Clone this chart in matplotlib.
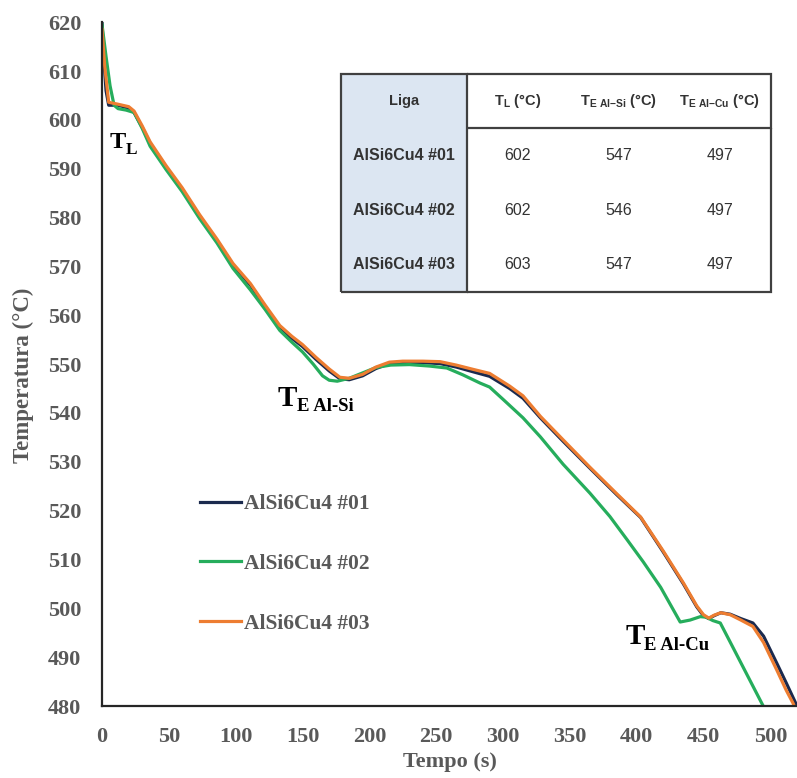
import matplotlib
matplotlib.use("Agg")
import matplotlib.pyplot as plt
from matplotlib.patches import Rectangle

# curvas de arrefecimento (tempo em s, temperatura em °C)
t_01 = [0, 1, 3, 5, 12, 20, 24, 30, 36, 48, 60, 73, 86, 98, 111, 122, 133, 142, 150, 160,
        170, 178, 185, 195, 205, 215, 225, 240, 253, 265, 278, 290, 305, 315, 328, 345,
        365, 385, 403, 420, 435, 445, 450, 454, 458, 463, 470, 478, 487, 495, 505, 512, 519, 522]
T_01 = [620, 614, 606, 603, 603, 602.4, 601.5, 598.5, 595.2, 590.3, 585.8, 580.3, 575.3, 570.3,
        566.2, 561.8, 557.6, 555.3, 553.6, 551, 548.6, 547, 546.8, 547.6, 549.1, 550.1, 550.3,
        550.3, 550.1, 549.4, 548.4, 547.5, 545, 543, 539, 534.2, 528.7, 523.3, 518.6, 511.5,
        505, 500.3, 498.5, 497.9, 498.5, 499.1, 498.8, 497.9, 497, 494.3, 488.7, 484.7, 480.6, 478.5]

t_02 = [0, 3, 6, 9, 12, 18, 24, 30, 36, 48, 60, 73, 86, 98, 111, 122, 133, 142, 150, 158,
        165, 170, 176, 185, 195, 205, 216, 230, 245, 258, 270, 283, 290, 300, 315, 328, 345,
        365, 380, 393, 405, 418, 432.6, 440, 447.6, 452, 457, 462.6, 470, 480, 490, 497]
T_02 = [619.5, 613, 607, 603, 602.3, 602, 601.5, 598.3, 594.6, 589.8, 585.3, 579.8, 574.8,
        569.6, 565.2, 561.2, 556.9, 554.5, 552.5, 550, 547.6, 546.7, 546.5, 547.1, 548.2, 549.3,
        549.8, 549.9, 549.6, 549.2, 547.8, 546.1, 545.3, 542.8, 539, 535.1, 529.5, 523.6, 518.8,
        514, 509.5, 504.3, 497.2, 497.6, 498.3, 498.2, 497.5, 497, 493.1, 487.8, 482.5, 478.8]

t_03 = [0, 2, 5, 12, 20, 24, 30, 36, 48, 60, 73, 86, 98, 111, 122, 133, 142, 150, 160, 170,
        178, 185, 195, 205, 215, 225, 240, 253, 265, 278, 290, 305, 315, 328, 345, 365, 385,
        403, 420, 435, 445, 450, 454, 458, 463, 470, 478, 487, 495, 505, 512, 517, 521]
T_03 = [618.5, 611, 603.6, 603.2, 602.7, 601.8, 598.8, 595.5, 590.6, 586.1, 580.6, 575.6, 570.6,
        566.5, 562.1, 557.9, 555.7, 554, 551.4, 549, 547.3, 547.1, 547.9, 549.4, 550.4, 550.6,
        550.6, 550.5, 549.8, 548.9, 548.1, 545.5, 543.5, 539.3, 534.5, 528.9, 523.5, 518.7,
        511.7, 505.2, 500.5, 498.7, 498, 498.6, 499.1, 498.7, 497.6, 496.3, 493, 487.3, 483.2,
        480.6, 478]

series = ["AlSi6Cu4 #01", "AlSi6Cu4 #02", "AlSi6Cu4 #03"]
colors = ["#1b2a4e", "#26ad5c", "#ed7d31"]

# tabela de temperaturas características
tab_cols = ["Liga", "T$_\\mathregular{L}$ (°C)", "T$_\\mathregular{E\\ Al{-}Si}$ (°C)",
            "T$_\\mathregular{E\\ Al{-}Cu}$ (°C)"]
T_L = [602, 602, 603]
T_E_AlSi = [547, 546, 547]
T_E_AlCu = [497, 497, 497]

x_ticks = list(range(0, 501, 50))
y_ticks = list(range(480, 621, 10))

gray = "#595959"
serif = "Liberation Serif"

fig = plt.figure(figsize=(7.97, 7.78), dpi=100)
ax = fig.add_axes([0.128, 0.0925, 0.872, 0.879])

ax.plot(t_01, T_01, color=colors[0], lw=2.3, label=series[0])
ax.plot(t_02, T_02, color=colors[1], lw=2.3, label=series[1])
ax.plot(t_03, T_03, color=colors[2], lw=2.3, label=series[2])

ax.set_xlim(0, 520)
ax.set_ylim(480, 620)
ax.set_xticks(x_ticks)
ax.set_yticks(y_ticks)
ax.tick_params(length=0, pad=15, labelsize=16, labelcolor=gray)
for lbl in ax.get_xticklabels() + ax.get_yticklabels():
    lbl.set_fontfamily(serif)
    lbl.set_fontweight("bold")

for s in ["top", "right"]:
    ax.spines[s].set_visible(False)
for s in ["left", "bottom"]:
    ax.spines[s].set_color("#262626")
    ax.spines[s].set_linewidth(1.6)

ax.set_xlabel("Tempo (s)", fontsize=16, fontfamily=serif, fontweight="bold", color=gray)
ax.set_ylabel("Temperatura (°C)", fontsize=16.5, fontfamily=serif, fontweight="bold", color=gray)
ax.xaxis.set_label_coords(0.5, -0.067)
ax.yaxis.set_label_coords(-0.098, 0.484)

leg = ax.legend(loc="upper left", bbox_to_anchor=(200 / 797, 1 - 494 / 778),
                bbox_transform=fig.transFigure, frameon=False, borderpad=0,
                borderaxespad=0, handlelength=1.9, handletextpad=0.15, labelspacing=1.85,
                prop={"family": serif, "weight": "bold", "size": 15.5})
for txt in leg.get_texts():
    txt.set_color(gray)

# rótulos dos patamares
def patamar(t, T, sub, size, sub_size, dx, dy):
    ax.text(t, T, "T", fontsize=size, fontfamily=serif, fontweight="bold", color="black",
            ha="left", va="baseline")
    ax.annotate(sub, xy=(t, T), xytext=(dx, -dy), textcoords="offset points",
                fontsize=sub_size, fontfamily=serif, fontweight="bold", color="black",
                ha="left", va="baseline")

patamar(6, 594.2, "L", 17.5, 12.5, 11.5, 4.3)
patamar(131, 541.4, "E Al-Si", 21, 13.5, 14.4, 3.6)
patamar(391.5, 492.7, "E Al-Cu", 21, 13.5, 13.5, 4.5)

# tabela
cell_text = [tab_cols]
for i in range(3):
    cell_text.append([series[i], str(T_L[i]), str(T_E_AlSi[i]), str(T_E_AlCu[i])])

x0, x1 = 341 / 797, 771 / 797
y0, y1 = 1 - 292 / 778, 1 - 74 / 778
col_w = [126, 101, 101, 102]
tab = fig.add_axes([x0, y0, x1 - x0, y1 - y0])
tab.set_xlim(0, 1)
tab.set_ylim(0, 1)
tab.axis("off")
tab.add_patch(Rectangle((0, 0), 1, 1, facecolor="white", edgecolor="none", zorder=-2))
tab.add_patch(Rectangle((0, 0), col_w[0] / sum(col_w), 1, facecolor="#dce6f2",
                        edgecolor="none", zorder=-1))
table = tab.table(cellText=cell_text, cellLoc="center", bbox=[0, 0, 1, 1],
                  colWidths=col_w)
table.auto_set_font_size(False)
for (r, c), cell in table.get_celld().items():
    cell.set_edgecolor("#404040")
    cell.set_linewidth(1.6)
    cell.set_facecolor("none")
    txt = cell.get_text()
    txt.set_fontfamily("Liberation Sans")
    txt.set_fontsize(11.5 if r > 0 else 10.5)
    txt.set_color("#333333")
    if c == 0 or r == 0:
        txt.set_fontweight("bold")
    if c == 0:
        cell.visible_edges = "LTR" if r == 0 else ("LRB" if r == 3 else "LR")
    else:
        edges = "TB" if r == 0 else ("B" if r == 3 else "")
        if c == 3:
            edges += "R"
        cell.visible_edges = edges

fig.savefig("out.png", dpi=100)
